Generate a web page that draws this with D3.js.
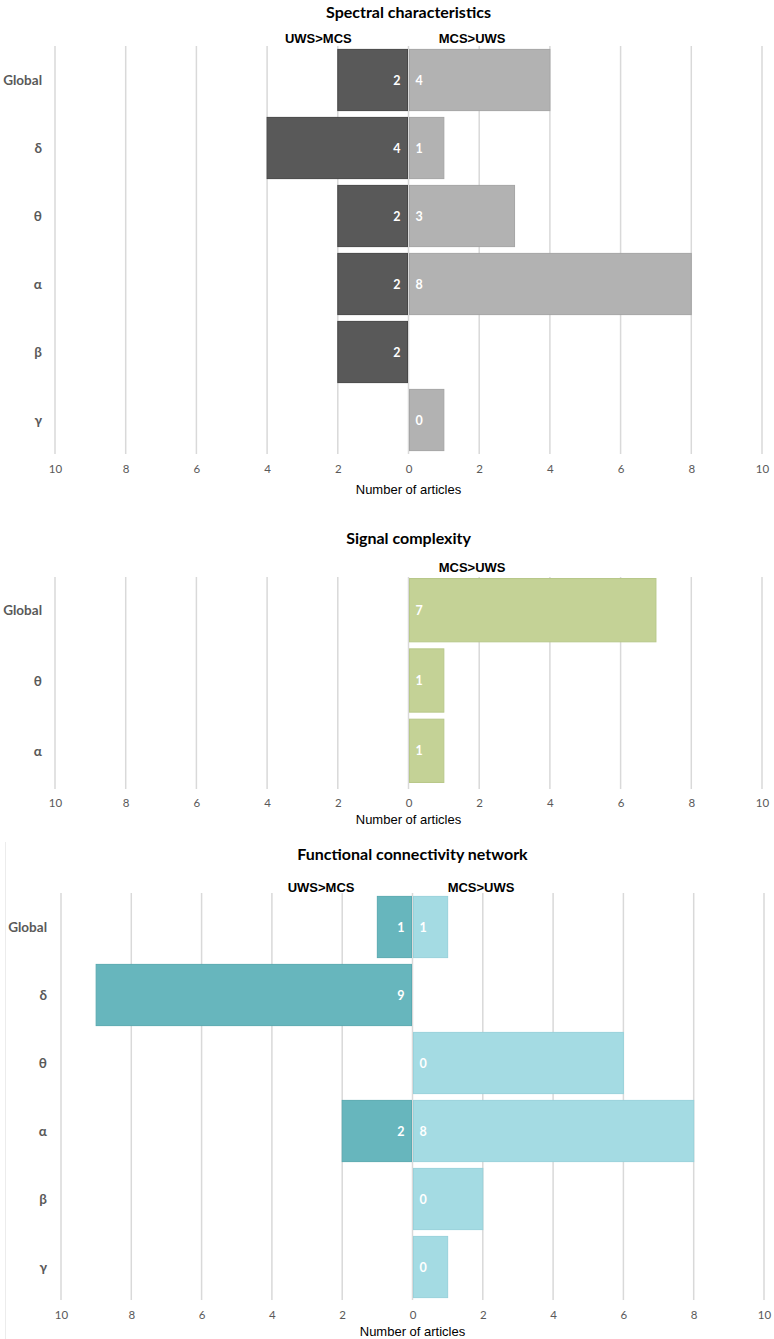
<!DOCTYPE html>
<html>
<head>
<meta charset="utf-8">
<script src="https://cdn.jsdelivr.net/npm/d3@7"></script>
<style>
  body { margin: 0; background: #fff; }
  svg text { font-family: Lato, "Open Sans", sans-serif; }
</style>
</head>
<body>
<svg width="774" height="1339"></svg>
<script>
// data
var xTicks = [-10, -8, -6, -4, -2, 0, 2, 4, 6, 8, 10];

var spectralBands = ["Global", "δ", "θ", "α", "β", "γ"];
var spectralUws = [2, 4, 2, 2, 2, 0];        // UWS>MCS
var spectralMcs = [4, 1, 3, 8, 0, 1];        // MCS>UWS
var spectralUwsLabels = ["2", "4", "2", "2", "2", ""];
var spectralMcsLabels = ["4", "1", "3", "8", "", "0"];

var complexityBands = ["Global", "θ", "α"];
var complexityMcs = [7, 1, 1];
var complexityMcsLabels = ["7", "1", "1"];

var networkBands = ["Global", "δ", "θ", "α", "β", "γ"];
var networkUws = [1, 9, 0, 2, 0, 0];
var networkMcs = [1, 0, 6, 8, 2, 1];
var networkUwsLabels = ["1", "9", "", "2", "", ""];
var networkMcsLabels = ["1", "", "0", "8", "0", "0"];

var svg = d3.select("svg");

// draws one butterfly panel
function drawPanel(p) {
	var x = d3.scaleLinear().domain([-10, 10]).range(p.xr);
	var y = d3.scaleBand().domain(p.bands).range(p.yr).paddingInner(0.1).paddingOuter(0.05);
	var g = svg.append("g");

	g.append("text")
		.attr("x", x(0)).attr("y", p.titleY)
		.attr("text-anchor", "middle")
		.attr("dominant-baseline", "central")
		.style("font-size", "16px").style("font-weight", "bold").attr("fill", "#000")
		.text(p.title);

	p.subs.forEach(function(s) {
		g.append("text")
			.attr("x", x(s.at)).attr("y", p.subY)
			.attr("text-anchor", "middle")
			.attr("dominant-baseline", "central")
			.style("font-family", "'Liberation Sans', Arial, sans-serif")
			.style("font-size", "13px").style("font-weight", "bold").attr("fill", "#000")
			.text(s.text);
	});

	// grid lines
	g.selectAll(".grid").data(xTicks).enter().append("line")
		.attr("x1", function(d) { return x(d); })
		.attr("x2", function(d) { return x(d); })
		.attr("y1", p.gridTop).attr("y2", p.gridBottom)
		.attr("stroke", "#d9d9d9").attr("stroke-width", 1.5);

	// axis (labels only, absolute values)
	var axis = d3.axisBottom(x).tickValues(xTicks).tickSize(0).tickPadding(0)
		.tickFormat(function(d) { return Math.abs(d); });
	var ax = g.append("g").attr("transform", "translate(0," + (p.tickY - 6) + ")").call(axis);
	ax.select(".domain").remove();
	ax.selectAll("text").style("font-size", "11.5px").attr("fill", "#595959")
		.style("font-family", "Lato, sans-serif");

	g.append("text")
		.attr("x", x(0)).attr("y", p.axisTitleY)
		.attr("text-anchor", "middle")
		.attr("dominant-baseline", "central")
		.style("font-family", "'Liberation Sans', Arial, sans-serif")
		.style("font-size", "13px").attr("fill", "#000")
		.text("Number of articles");

	// category labels
	g.selectAll(".cat").data(p.bands).enter().append("text")
		.attr("x", p.catX)
		.attr("y", function(d) { return y(d) + y.bandwidth() / 2; })
		.attr("text-anchor", "end")
		.attr("dominant-baseline", "central")
		.style("font-size", "13.5px").style("font-weight", "bold").attr("fill", "#595959")
		.text(function(d) { return d; });

	p.series.forEach(function(s) {
		var rows = p.bands.map(function(b, i) { return { band: b, v: s.values[i], label: s.labels[i] }; });
		g.selectAll(null).data(rows.filter(function(r) { return r.v > 0; })).enter().append("rect")
			.attr("x", function(r) { return s.side < 0 ? x(-r.v) : x(0) + 1; })
			.attr("width", function(r) { return Math.abs(x(r.v) - x(0)) - 1; })
			.attr("y", function(r) { return y(r.band); })
			.attr("height", y.bandwidth())
			.attr("fill", s.fill).attr("stroke", s.stroke).attr("stroke-width", 1);

		g.selectAll(null).data(rows.filter(function(r) { return r.label !== ""; })).enter().append("text")
			.attr("x", s.side < 0 ? x(0) - 8 : x(0) + 7)
			.attr("y", function(r) { return y(r.band) + y.bandwidth() / 2; })
			.attr("text-anchor", s.side < 0 ? "end" : "start")
			.attr("dominant-baseline", "central")
			.style("font-size", "12.5px").style("font-weight", "bold").attr("fill", "#fff")
			.text(function(r) { return r.label; });
	});
}

drawPanel({
	title: "Spectral characteristics", titleY: 11,
	subs: [{ text: "UWS>MCS", at: -2.55 }, { text: "MCS>UWS", at: 1.8 }], subY: 38,
	bands: spectralBands, xr: [55, 762], yr: [46, 454],
	gridTop: 46, gridBottom: 454, tickY: 471, axisTitleY: 489, catX: 42,
	series: [
		{ values: spectralUws, labels: spectralUwsLabels, side: -1, fill: "#595959", stroke: "#464646" },
		{ values: spectralMcs, labels: spectralMcsLabels, side: 1, fill: "#b2b2b2", stroke: "#a5a5a5" }
	]
});

drawPanel({
	title: "Signal complexity", titleY: 537,
	subs: [{ text: "MCS>UWS", at: 1.8 }], subY: 567,
	bands: complexityBands, xr: [55, 762], yr: [575, 786],
	gridTop: 577, gridBottom: 789, tickY: 805, axisTitleY: 819, catX: 42,
	series: [
		{ values: complexityMcs, labels: complexityMcsLabels, side: 1, fill: "#c4d296", stroke: "#b8c889" }
	]
});

// faint frame line at the left of the last panel
svg.append("line").attr("x1", 5.5).attr("x2", 5.5).attr("y1", 842).attr("y2", 1339)
	.attr("stroke", "#ececec").attr("stroke-width", 1);

drawPanel({
	title: "Functional connectivity network", titleY: 853,
	subs: [{ text: "UWS>MCS", at: -2.6 }, { text: "MCS>UWS", at: 1.95 }], subY: 887,
	bands: networkBands, xr: [61, 764], yr: [893, 1301],
	gridTop: 893, gridBottom: 1300, tickY: 1317, axisTitleY: 1331, catX: 47,
	series: [
		{ values: networkUws, labels: networkUwsLabels, side: -1, fill: "#67b6bd", stroke: "#5aaab1" },
		{ values: networkMcs, labels: networkMcsLabels, side: 1, fill: "#a4dbe3", stroke: "#98d2db" }
	]
});
</script>
</body>
</html>
